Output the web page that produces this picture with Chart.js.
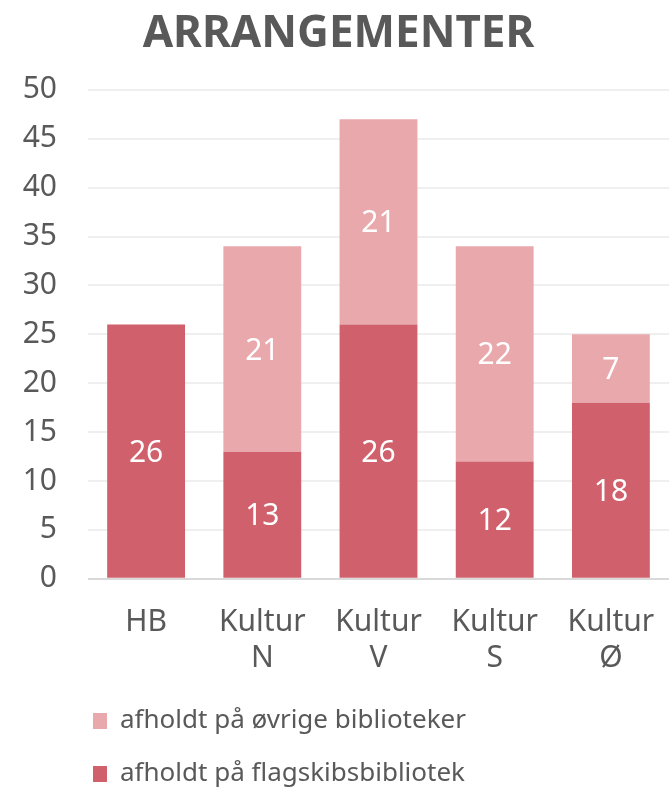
<!DOCTYPE html>
<html>
<head>
<meta charset="utf-8">
<script src="https://cdn.jsdelivr.net/npm/chart.js@4"></script>
<style>
  html, body { margin: 0; padding: 0; background: #fff; }
  #wrap { width: 669px; height: 790px; position: relative; }
</style>
</head>
<body>
<div id="wrap"><canvas id="chart"></canvas></div>
<script>
// Arrangementer pr. område
const categories = ["HB", ["Kultur", "N"], ["Kultur", "V"], ["Kultur", "S"], ["Kultur", "Ø"]];
const flagskib = [26, 13, 26, 12, 18];
const oevrige  = [0, 21, 21, 22, 7];
const yTicks   = [0, 5, 10, 15, 20, 25, 30, 35, 40, 45, 50];

const TEXT = "#595959";
const FONT = "'Noto Sans', 'DejaVu Sans', sans-serif";

// white value labels in the middle of each segment
const barLabels = {
  id: "barLabels",
  afterDatasetsDraw(chart) {
    const ctx = chart.ctx;
    ctx.save();
    ctx.fillStyle = "#fff";
    ctx.font = "30px " + FONT;
    ctx.textAlign = "center";
    ctx.textBaseline = "middle";
    chart.data.datasets.forEach((ds, i) => {
      const meta = chart.getDatasetMeta(i);
      meta.data.forEach((bar, j) => {
        const v = ds.data[j];
        if (!v) return;
        const p = bar.getProps(["x", "y", "base"], true);
        ctx.fillText(String(v), p.x, (p.y + p.base) / 2 + 2);
      });
    });
    ctx.restore();
  }
};

// legend sits left-ish under the plot, not centred
const legendShift = {
  id: "legendShift",
  afterLayout(chart) {
    chart.legend.left = 66;
  }
};

new Chart(document.getElementById("chart"), {
  type: "bar",
  data: {
    labels: categories,
    datasets: [
      {
        label: "afholdt på flagskibsbibliotek",
        data: flagskib,
        backgroundColor: "#D0606C",
        barPercentage: 0.67,
        categoryPercentage: 1
      },
      {
        label: "afholdt på øvrige biblioteker",
        data: oevrige,
        backgroundColor: "#E9A9AC",
        barPercentage: 0.67,
        categoryPercentage: 1
      }
    ]
  },
  options: {
    responsive: true,
    maintainAspectRatio: false,
    animation: false,
    layout: { padding: { left: 0, right: -8, top: 8, bottom: -7 } },
    scales: {
      x: {
        stacked: true,
        grid: { display: false },
        border: { display: false },
        afterFit(axis) {
          axis.height -= 13;
          axis.paddingRight = -8;
        },
        ticks: {
          color: TEXT,
          font: { family: FONT, size: 30, lineHeight: 1.22 },
          padding: 17,
          maxRotation: 0
        }
      },
      y: {
        stacked: true,
        min: 0,
        max: 50,
        afterBuildTicks(axis) {
          axis.ticks = yTicks.map(v => ({ value: v }));
        },
        afterFit(axis) {
          axis.width = 88;
        },
        border: { display: false },
        grid: {
          drawTicks: false,
          lineWidth: 2,
          color: c => (c.tick && c.tick.value === 0 ? "#D9D9D9" : "#EFEFEF")
        },
        ticks: {
          color: TEXT,
          font: { family: FONT, size: 30 },
          padding: 31
        }
      }
    },
    plugins: {
      title: {
        display: true,
        text: "ARRANGEMENTER",
        color: TEXT,
        font: { family: FONT, size: 44, weight: "bold" },
        padding: { top: 0, bottom: 29 }
      },
      legend: {
        position: "bottom",
        align: "start",
        reverse: true,
        labels: {
          color: TEXT,
          font: { family: FONT, size: 26 },
          boxWidth: 14,
          boxHeight: 16,
          padding: 27
        }
      },
      tooltip: { enabled: false }
    }
  },
  plugins: [barLabels, legendShift]
});
</script>
</body>
</html>
